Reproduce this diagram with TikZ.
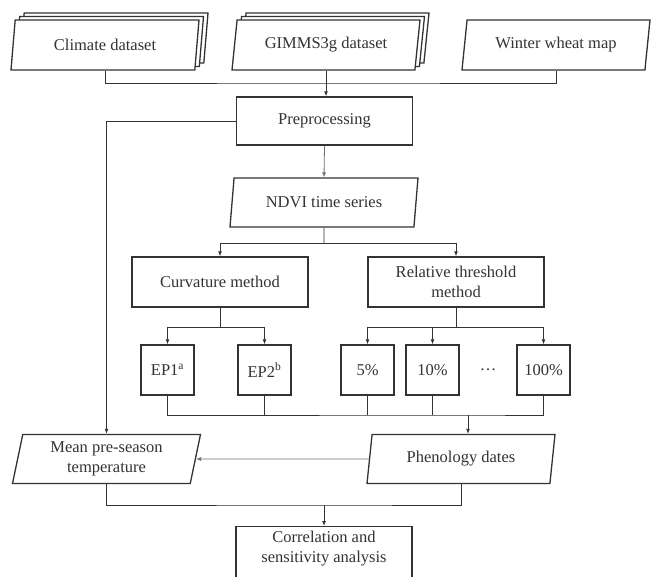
\documentclass[tikz,border=0pt]{standalone}
\usepackage{fontspec}
\setmainfont{Liberation Serif}
\usetikzlibrary{arrows.meta,positioning,shapes.geometric,shadows}
\definecolor{ink}{HTML}{333333}
\definecolor{inkgray}{HTML}{707070}
\tikzset{
  flowarr/.style={-{Latex[length=5pt,width=4pt]},line width=0.9pt,color=ink},
  flowline/.style={line width=0.9pt,color=ink},
  softarr/.style={-{Latex[length=5pt,width=4pt]},line width=0.8pt,color=inkgray},
  procbox/.style={draw=ink,fill=white,line width=1.3pt,align=center,inner sep=2pt,text=ink,minimum width=176pt,minimum height=50pt},
  databox/.style={trapezium,trapezium left angle=75,trapezium right angle=105,trapezium stretches body,draw=ink,fill=white,line width=1.3pt,align=center,inner sep=2pt,text=ink,minimum width=188pt,minimum height=50pt},
  stackbox/.style={databox,copy shadow={shadow xshift=9pt,shadow yshift=7pt},copy shadow={shadow xshift=4.5pt,shadow yshift=3.5pt}},
  smallbox/.style={procbox,minimum width=53pt,minimum height=50pt}
}
\begin{document}
\begin{tikzpicture}[x=1pt,y=-1pt,font=\fontsize{16.5}{20}\selectfont]
  \useasboundingbox (0,0) rectangle (651,577);

  \node[stackbox] (climate) at (105,45) {Climate dataset};
  \node[stackbox] (gimms) at (326,45) {GIMMS3g dataset};
  \node[databox] (wheat) at (556,45) {Winter wheat map};

  \node[procbox,minimum height=48pt] (prep) at (324.5,121) {Preprocessing};
  \node[databox,minimum height=49pt] (ndvi) at (324,202.5) {NDVI time series};

  \node[procbox] (curv) at (220,282) {Curvature method};
  \node[procbox] (rel) at (456,282) {Relative threshold\\method};

  \node[smallbox] (ep1) at (167.5,370) {EP1\textsuperscript{a}};
  \node[smallbox] (ep2) at (264.5,370) {EP2\textsuperscript{b}};
  \node[smallbox] (p5) at (367.5,370) {5\%};
  \node[smallbox] (p10) at (432.5,370) {10\%};
  \node[text=ink] (dots) at (488,370) {\dots};
  \node[smallbox] (p100) at (543.5,370) {100\%};

  \node[databox,minimum height=49pt] (mean) at (106.5,459) {Mean pre-season\\temperature};
  \node[databox,minimum height=49pt] (phen) at (461,459) {Phenology dates};

  \node[procbox,anchor=north,minimum height=0pt,inner ysep=1.5pt,text height=34pt,text depth=22pt] (corr) at (324,526)
    {Correlation and\\sensitivity analysis};

  \coordinate (topj) at (326,83);
  \coordinate (ndvij) at (324,243);
  \coordinate (curvj) at (220,327);
  \coordinate (relj) at (456,327);
  \coordinate (botj) at (468,415);
  \coordinate (finj) at (324,505);

  \draw[flowline] (climate.south) |- (topj) -| (wheat.south);
  \draw[flowarr] (gimms.south) -- (gimms.south |- prep.north);
  \draw[flowarr] (prep.west) -| (mean.north);
  \draw[softarr] (prep.south) -- (ndvi.north);
  \draw[flowline] (ndvi.south) -- (ndvij);
  \draw[flowarr] (ndvij) -| (curv.north); \draw[flowarr] (ndvij) -| (rel.north);
  \draw[flowline] (curv.south) -- (curvj);
  \draw[flowarr] (curvj) -| (ep1.north); \draw[flowarr] (curvj) -| (ep2.north);
  \draw[flowline] (rel.south) -- (relj);
  \foreach \b in {p5,p10,p100} \draw[flowarr] (relj) -| (\b.north);
  \draw[flowline] (ep1.south) |- (botj) -| (p100.south);
  \foreach \b in {ep2,p5,p10} \draw[flowline] (\b.south) -- (\b.south |- botj);
  \draw[flowarr] (botj) -- (botj |- phen.north);
  \draw[softarr] (phen.west) -- (mean.east);
  \draw[flowline] (mean.south) |- (finj) -| (phen.south);
  \draw[flowarr] (finj) -- (corr.north);
\end{tikzpicture}
\end{document}
